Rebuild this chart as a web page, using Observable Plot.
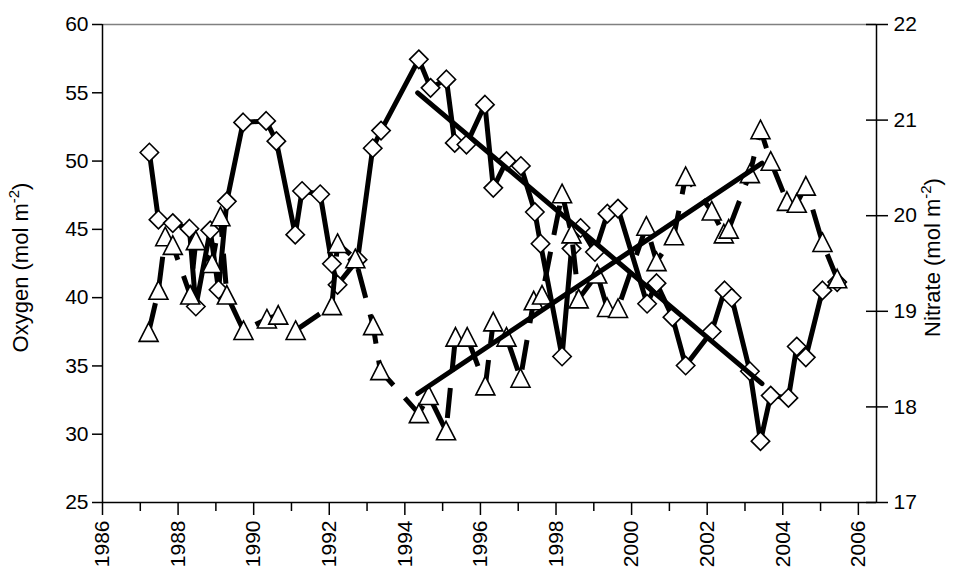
<!DOCTYPE html>
<html>
<head>
<meta charset="utf-8">
<script src="https://cdn.jsdelivr.net/npm/d3@7"></script>
<script src="https://cdn.jsdelivr.net/npm/@observablehq/plot@0.6"></script>
<style>
  html, body { margin: 0; padding: 0; background: #fff; }
  #chart svg { display: block; }
</style>
</head>
<body>
<div id="chart"></div>
<script>
// Oxygen inventory (mol m-2) by decimal year
const oxygenYears = [1987.24, 1987.48, 1987.86, 1988.30, 1988.47, 1988.85, 1989.07, 1989.29, 1989.72, 1990.33,
  1990.60, 1991.10, 1991.28, 1991.76, 1992.07, 1992.22, 1992.75, 1993.15, 1993.37, 1994.37,
  1994.68, 1995.10, 1995.32, 1995.63, 1996.12, 1996.34, 1996.69, 1997.07, 1997.44, 1997.59,
  1998.16, 1998.41, 1998.65, 1999.03, 1999.36, 1999.64, 2000.41, 2000.66, 2001.08, 2001.43,
  2002.12, 2002.46, 2002.65, 2003.13, 2003.41, 2003.68, 2004.15, 2004.37, 2004.61, 2005.05,
  2005.44];
const oxygenValues = [50.63, 45.71, 45.46, 45.05, 39.35, 44.93, 40.58, 47.05, 52.83, 52.94,
  51.46, 44.61, 47.81, 47.57, 42.48, 40.94, 42.78, 50.94, 52.23, 57.45,
  55.36, 55.98, 51.33, 51.21, 54.13, 48.04, 50.00, 49.64, 46.27, 43.95,
  35.69, 43.59, 45.10, 43.34, 46.15, 46.52, 39.55, 41.06, 38.57, 35.03,
  37.52, 40.53, 39.99, 34.61, 29.49, 32.83, 32.66, 36.42, 35.63, 40.53,
  41.14];

// Nitrate inventory (mol m-2) by decimal year
const nitrateYears = [1987.22, 1987.48, 1987.66, 1987.86, 1988.32, 1988.47, 1988.90, 1989.12, 1989.29, 1989.73,
  1990.35, 1990.65, 1991.11, 1992.07, 1992.22, 1992.69, 1993.16, 1993.35, 1994.37, 1994.63,
  1995.09, 1995.34, 1995.65, 1996.13, 1996.34, 1996.69, 1997.06, 1997.41, 1997.63, 1998.16,
  1998.41, 1998.60, 1999.09, 1999.35, 1999.64, 2000.39, 2000.66, 2001.12, 2001.43, 2002.12,
  2002.44, 2002.57, 2003.13, 2003.41, 2003.68, 2004.11, 2004.37, 2004.61, 2005.05, 2005.44];
const nitrateValues = [18.78, 19.22, 19.78, 19.69, 19.17, 19.74, 19.50, 19.99, 19.17, 18.80,
  18.92, 18.96, 18.80, 19.06, 19.71, 19.55, 18.85, 18.38, 17.93, 18.12,
  17.75, 18.73, 18.73, 18.22, 18.89, 18.73, 18.30, 19.11, 19.17, 20.23,
  19.81, 19.13, 19.39, 19.04, 19.03, 19.89, 19.52, 19.79, 20.41, 20.05,
  19.81, 19.86, 20.44, 20.90, 20.57, 20.15, 20.13, 20.31, 19.72, 19.34];

// Linear trends fitted over 1994-2003
const trendYears = [1994.34, 2003.45];
const oxygenTrend = [55.0, 33.7];
const nitrateTrend = [18.14, 20.55];

// Axis ticks and titles
const yearTicks = [1986, 1988, 1990, 1992, 1994, 1996, 1998, 2000, 2002, 2004, 2006];
const minorYearTicks = [1987, 1989, 1991, 1993, 1995, 1997, 1999, 2001, 2003, 2005];
const oxygenTicks = [25, 30, 35, 40, 45, 50, 55, 60];
const nitrateTicks = [17, 18, 19, 20, 21, 22];
const oxygenTitle = "Oxygen (mol m-2)";
const nitrateTitle = "Nitrate (mol m-2)";

const yearMin = 1986, yearMax = 2006.48;

// Nitrate shares the plot with oxygen: map its range onto the oxygen axis
const nitrateToOxygen = d3.scaleLinear().domain([17, 22]).range([25, 60]);
const nitrateTickPositions = nitrateTicks.map(nitrateToOxygen);

// Marker shapes: square diamond and an up-pointing triangle about as tall as wide
const diamondSymbol = {
  draw(context, size) {
    const r = Math.sqrt(size / Math.PI);
    context.moveTo(0, -r);
    context.lineTo(r, 0);
    context.lineTo(0, r);
    context.lineTo(-r, 0);
    context.closePath();
  }
};
const triangleSymbol = {
  draw(context, size) {
    const r = Math.sqrt(size / Math.PI);
    context.moveTo(0, -r);
    context.lineTo(r, r * 0.95);
    context.lineTo(-r, r * 0.95);
    context.closePath();
  }
};

const font = "'Liberation Sans', Arial, Helvetica, sans-serif";
const axisStroke = 1.5;

const chart = Plot.plot({
  width: 960,
  height: 568,
  marginLeft: 102,
  marginRight: 84,
  marginTop: 24,
  marginBottom: 66,
  style: {fontFamily: font, fontSize: "21px", background: "#fff", color: "#000"},
  x: {domain: [yearMin, yearMax]},
  y: {domain: [25, 60]},
  marks: [
    // plot-area border on top
    Plot.ruleY([60], {stroke: "#808080", strokeWidth: 1.5}),

    // left axis (oxygen)
    Plot.axisY(oxygenTicks, {anchor: "left", tickSize: 10, tickPadding: 4, label: null,
      strokeWidth: axisStroke, tickFormat: d => String(d)}),
    // right axis (nitrate): ticks crossing the axis line, labels to the right
    Plot.axisY(nitrateTickPositions, {anchor: "right", tickSize: 22, dx: -11, label: null,
      strokeWidth: axisStroke, tickFormat: () => ""}),
    Plot.text(nitrateTicks, {frameAnchor: "right", y: nitrateTickPositions, text: d => String(d),
      dx: 17, textAnchor: "start", lineAnchor: "middle"}),
    // bottom axis: labelled even years, short ticks on odd years
    Plot.axisX(yearTicks, {anchor: "bottom", tickSize: 13, tickPadding: 5, tickRotate: -90,
      textAnchor: "end", label: null, strokeWidth: axisStroke, tickFormat: d => String(d)}),
    Plot.axisX(minorYearTicks, {anchor: "bottom", tickSize: 9, label: null,
      strokeWidth: axisStroke, tickFormat: () => ""}),
    Plot.ruleX([yearMin], {strokeWidth: axisStroke}),
    Plot.ruleX([yearMax], {strokeWidth: axisStroke}),
    Plot.ruleY([25], {strokeWidth: axisStroke}),

    // oxygen series: solid line with diamonds
    Plot.line(oxygenValues, {x: oxygenYears, y: oxygenValues, stroke: "#000", strokeWidth: 5,
      strokeLinejoin: "round"}),
    Plot.dot(oxygenValues, {x: oxygenYears, y: oxygenValues, symbol: diamondSymbol, r: 9.2,
      fill: "#fff", stroke: "#000", strokeWidth: 1.6}),

    // nitrate series: dashed line with triangles
    Plot.line(nitrateValues, {x: nitrateYears, y: nitrateValues.map(nitrateToOxygen), stroke: "#000",
      strokeWidth: 5, strokeDasharray: "30,17", strokeLinecap: "butt", strokeLinejoin: "round"}),
    Plot.dot(nitrateValues, {x: nitrateYears, y: nitrateValues.map(nitrateToOxygen), symbol: triangleSymbol, r: 9.5,
      fill: "#fff", stroke: "#000", strokeWidth: 1.6}),

    // trend lines
    Plot.line(oxygenTrend, {x: trendYears, y: oxygenTrend, stroke: "#000", strokeWidth: 5}),
    Plot.line(nitrateTrend, {x: trendYears, y: nitrateTrend.map(nitrateToOxygen), stroke: "#000", strokeWidth: 5}),

    // axis titles
    Plot.text([oxygenTitle], {frameAnchor: "left", dx: -82, dy: 4, rotate: -90,
      textAnchor: "middle", lineAnchor: "middle", fontSize: 22}),
    Plot.text([nitrateTitle], {frameAnchor: "right", dx: 56, dy: -6, rotate: -90,
      textAnchor: "middle", lineAnchor: "middle", fontSize: 22})
  ]
});

// Set the "-2" exponent in the axis titles as a superscript
for (const t of chart.querySelectorAll("text")) {
  const s = t.textContent;
  if (s === oxygenTitle || s === nitrateTitle) {
    const head = s.slice(0, s.indexOf("-2"));
    const ns = "http://www.w3.org/2000/svg";
    t.textContent = head;
    const sup = document.createElementNS(ns, "tspan");
    sup.setAttribute("dy", "-9");
    sup.setAttribute("font-size", "15");
    sup.textContent = "-2";
    const tail = document.createElementNS(ns, "tspan");
    tail.setAttribute("dy", "9");
    tail.textContent = ")";
    t.append(sup, tail);
  }
}

document.getElementById("chart").append(chart);
</script>
</body>
</html>
